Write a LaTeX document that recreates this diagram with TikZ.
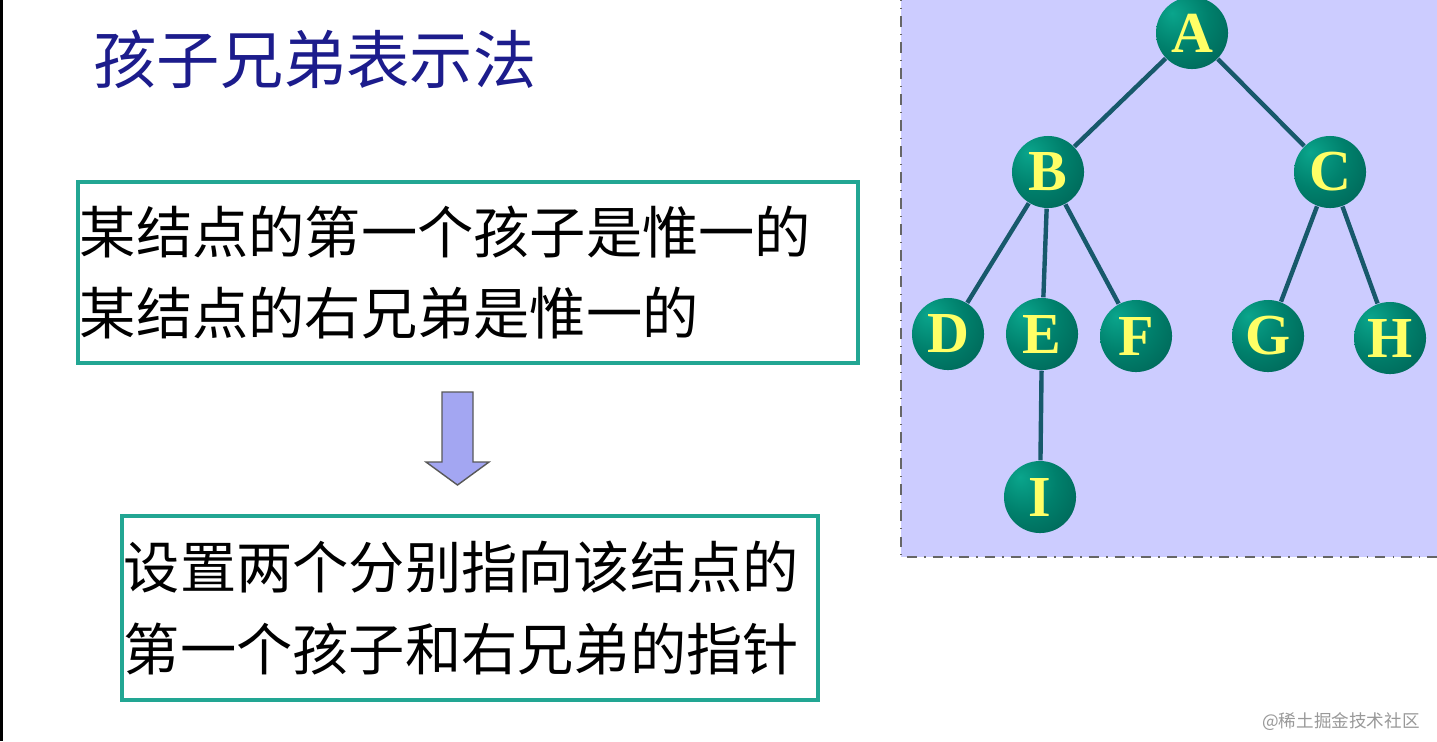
\documentclass[tikz,border=0pt]{standalone}
\usepackage{fontspec}
\setmainfont{Liberation Serif}
\newfontfamily\cjk{Noto Sans CJK SC}
\usepackage{xcolor}
\definecolor{titleblue}{HTML}{1C1C8C}
\definecolor{boxteal}{HTML}{22A693}
\definecolor{panelfill}{HTML}{CCCCFF}
\definecolor{edgecolor}{HTML}{17596B}
\definecolor{letteryellow}{HTML}{FFFF66}
\definecolor{ballhi}{HTML}{0AA58C}
\definecolor{ballmid}{HTML}{00806C}
\definecolor{balldark}{HTML}{00554A}
\definecolor{arrowfill}{HTML}{A3A6F2}
\pgfdeclareradialshading{treeball}{\pgfpoint{-14bp}{14bp}}{%
  color(0bp)=(ballhi); color(22bp)=(ballmid); color(55bp)=(balldark); color(100bp)=(balldark)}

\begin{document}
\begin{tikzpicture}[
    x=0.01cm, y=-0.01cm,
    rulebox/.style={draw=boxteal, line width=1.1pt, inner xsep=0.02cm, inner ysep=0pt,
                    align=left, text=black, font=\cjk\fontsize{16}{23.3}\selectfont},
    treenode/.style={circle, minimum size=0.72cm, inner sep=0pt, shading=treeball,
                     text=letteryellow, font=\fontsize{16.5}{16.5}\selectfont\bfseries},
    treeedge/.style={draw=edgecolor, line width=1.25pt},
    blockarrow/.style={fill=arrowfill, draw=black!65, line width=0.4pt}
]
\path[use as bounding box, clip] (0,0) rectangle (1437,741);
\fill[white] (0,0) rectangle (1437,741);
\fill[black] (0,0) rectangle (3,741);

% left side: title and the two rules
\node[anchor=west, text=titleblue, font=\cjk\fontsize{18}{18}\selectfont] (title) at (81,59) {孩子兄弟表示法};
\node[rulebox, text width=7.76cm, minimum height=1.81cm] (rule) at (468,272.5)
    {某结点的第一个孩子是惟一的\\某结点的右兄弟是惟一的};
\node[rulebox, text width=6.92cm, minimum height=1.84cm] (pointers) at (470,608)
    {设置两个分别指向该结点的\\第一个孩子和右兄弟的指针};
\draw[blockarrow] (442,392) -- (473,392) -- (473,462) -- (489,462) -- (457.5,485)
    -- (426,462) -- (442,462) -- cycle;

% right side: the tree
\draw[fill=panelfill, draw=black!60, dash dot, line width=0.5pt] (901,-10) rectangle (1460,557);
\node[treenode] (A) at (1192,33) {A};
\node[treenode] (B) at (1048,172) {B};
\node[treenode] (C) at (1330,172) {C};
\node[treenode] (D) at (948,334) {D};
\node[treenode] (E) at (1042,334) {E};
\node[treenode] (F) at (1136,336) {F};
\node[treenode] (G) at (1268,336) {G};
\node[treenode] (H) at (1390,338) {H};
\node[treenode] (I) at (1040,497) {I};

\draw[treeedge] (A) -- (B);
\draw[treeedge] (A) -- (C);
\draw[treeedge] (B) -- (D);
\draw[treeedge] (B) -- (E);
\draw[treeedge] (B) -- (F);
\draw[treeedge] (C) -- (G);
\draw[treeedge] (C) -- (H);
\draw[treeedge] (E) -- (I);

\node[anchor=east, text=black!40, font=\cjk\fontsize{5}{5}\selectfont] (mark) at (1432,722) {@稀土掘金技术社区};
\end{tikzpicture}
\end{document}
